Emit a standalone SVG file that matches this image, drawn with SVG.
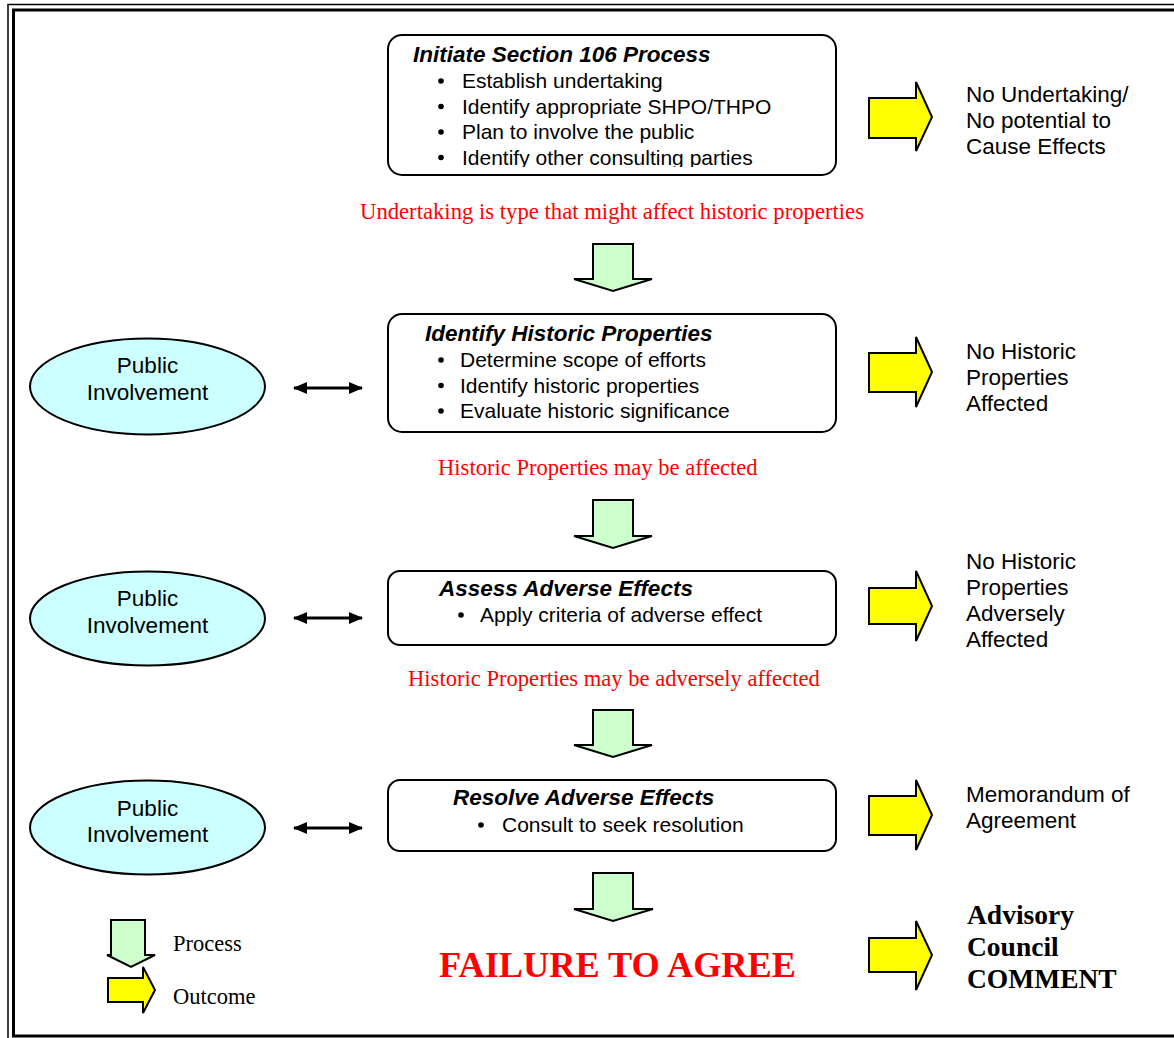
<svg xmlns="http://www.w3.org/2000/svg" width="1174" height="1038" viewBox="0 0 1174 1038">
<style>
.box{fill:#fff;stroke:#000;stroke-width:2}
.ell{fill:#CCFFFF;stroke:#000;stroke-width:2}
.proc{fill:#CCFFCC;stroke:#000;stroke-width:2;stroke-linejoin:miter}
.out{fill:#FFFF00;stroke:#000;stroke-width:2;stroke-linejoin:miter}
.dbl{stroke:#000;stroke-width:2.8;fill:none}
.sans{font-family:'Liberation Sans',Arial,sans-serif;fill:#000}
.body{font-size:21px}
.ttl{font-size:22.5px;font-weight:bold;font-style:italic}
.lg{font-size:22.5px}
.red{font-family:'Liberation Serif','Times New Roman',serif;font-size:22.6px;fill:#FF0000}
.ser{font-family:'Liberation Serif','Times New Roman',serif;fill:#000}
.big{font-size:27.5px;font-weight:bold}
.dot{fill:#000}
</style>
<defs>
<marker id="ah" viewBox="0 0 14 12" markerWidth="14" markerHeight="12" markerUnits="userSpaceOnUse" refX="13" refY="6" orient="auto-start-reverse">
<path d="M0,0 L14,6 L0,12 z" fill="#000"/>
</marker>
<clipPath id="c1"><rect x="388" y="36" width="447" height="131"/></clipPath>
</defs>
<rect width="1174" height="1038" fill="#fff"/>
<g id="border" fill="none" stroke="#000">
<rect x="8" y="4.5" width="1180" height="1040" stroke-width="1.5"/>
<rect x="13.5" y="10" width="1170" height="1026" stroke-width="3"/>
</g>
<g id="connectors">
<line class="dbl" x1="294" y1="388" x2="362" y2="388" marker-start="url(#ah)" marker-end="url(#ah)"/>
<line class="dbl" x1="294" y1="618" x2="362" y2="618" marker-start="url(#ah)" marker-end="url(#ah)"/>
<line class="dbl" x1="294" y1="828" x2="362" y2="828" marker-start="url(#ah)" marker-end="url(#ah)"/>
<polygon class="proc" points="593,244 633,244 633,279 652,279 613,291 574,279 593,279"/>
<polygon class="proc" points="593,500 633,500 633,536 652,536 613,548 574,536 593,536"/>
<polygon class="proc" points="593,710 633,710 633,745 652,745 613,757 574,745 593,745"/>
<polygon class="proc" points="593,873 633,873 633,909 653,909 613,921 574,909 593,909"/>
<polygon class="out" points="869,98 916,98 916,82 932,117 916,151 916,138 869,138"/>
<polygon class="out" points="869,353 916,353 916,337 932,372 916,407 916,392 869,392"/>
<polygon class="out" points="869,588 916,588 916,571 932,606 916,641 916,624 869,624"/>
<polygon class="out" points="869,796 916,796 916,780 932,815 916,850 916,835 869,835"/>
<polygon class="out" points="869,938 916,938 916,921 932,955 916,990 916,972 869,972"/>
</g>
<g id="initiate">
<rect class="box" x="388" y="35" width="448" height="140" rx="14"/>
<g clip-path="url(#c1)">
<text class="sans ttl" x="413" y="62">Initiate Section 106 Process</text>
<circle class="dot" cx="441" cy="81" r="2.8"/>
<text class="sans body" x="462" y="88">Establish undertaking</text>
<circle class="dot" cx="441" cy="106.5" r="2.8"/>
<text class="sans body" x="462" y="113.5">Identify appropriate SHPO/THPO</text>
<circle class="dot" cx="441" cy="132" r="2.8"/>
<text class="sans body" x="462" y="139">Plan to involve the public</text>
<circle class="dot" cx="441" cy="157.5" r="2.8"/>
<text class="sans body" x="462" y="164.5">Identify other consulting parties</text>
</g>
</g>
<g id="label1"><text class="red" x="360" y="218.5" textLength="504" lengthAdjust="spacingAndGlyphs">Undertaking is type that might affect historic properties</text></g>
<g id="outcome1">
<text class="sans lg" x="966" y="102">No Undertaking/</text>
<text class="sans lg" x="966" y="128">No potential to</text>
<text class="sans lg" x="966" y="154">Cause Effects</text>
</g>
<g id="public1">
<ellipse class="ell" cx="147.5" cy="386.5" rx="117.5" ry="48"/>
<text class="sans lg" x="147.5" y="373" text-anchor="middle">Public</text>
<text class="sans lg" x="147.5" y="400" text-anchor="middle">Involvement</text>
</g>
<g id="identify">
<rect class="box" x="388" y="314" width="448" height="118" rx="14"/>
<text class="sans ttl" x="425" y="341">Identify Historic Properties</text>
<circle class="dot" cx="441" cy="360" r="2.8"/>
<text class="sans body" x="460" y="367">Determine scope of efforts</text>
<circle class="dot" cx="441" cy="385.5" r="2.8"/>
<text class="sans body" x="460" y="392.5">Identify historic properties</text>
<circle class="dot" cx="441" cy="411" r="2.8"/>
<text class="sans body" x="460" y="418">Evaluate historic significance</text>
</g>
<g id="outcome2">
<text class="sans lg" x="966" y="359">No Historic</text>
<text class="sans lg" x="966" y="385">Properties</text>
<text class="sans lg" x="966" y="411">Affected</text>
</g>
<g id="label2"><text class="red" x="438" y="475">Historic Properties may be affected</text></g>
<g id="public2">
<ellipse class="ell" cx="147.5" cy="618.5" rx="117.5" ry="47"/>
<text class="sans lg" x="147.5" y="606" text-anchor="middle">Public</text>
<text class="sans lg" x="147.5" y="633" text-anchor="middle">Involvement</text>
</g>
<g id="assess">
<rect class="box" x="388" y="571" width="448" height="74" rx="12"/>
<text class="sans ttl" x="439" y="596">Assess Adverse Effects</text>
<circle class="dot" cx="461" cy="615" r="2.8"/>
<text class="sans body" x="480" y="622">Apply criteria of adverse effect</text>
</g>
<g id="outcome3">
<text class="sans lg" x="966" y="569">No Historic</text>
<text class="sans lg" x="966" y="595">Properties</text>
<text class="sans lg" x="966" y="621">Adversely</text>
<text class="sans lg" x="966" y="647">Affected</text>
</g>
<g id="label3"><text class="red" x="408" y="685.5">Historic Properties may be adversely affected</text></g>
<g id="public3">
<ellipse class="ell" cx="147.5" cy="827.5" rx="117.5" ry="47"/>
<text class="sans lg" x="147.5" y="816" text-anchor="middle">Public</text>
<text class="sans lg" x="147.5" y="842" text-anchor="middle">Involvement</text>
</g>
<g id="resolve">
<rect class="box" x="388" y="780" width="448" height="71" rx="12"/>
<text class="sans ttl" x="453" y="805">Resolve Adverse Effects</text>
<circle class="dot" cx="481" cy="825" r="2.8"/>
<text class="sans body" x="502" y="832">Consult to seek resolution</text>
</g>
<g id="outcome4">
<text class="sans lg" x="966" y="802">Memorandum of</text>
<text class="sans lg" x="966" y="828">Agreement</text>
</g>
<g id="failure"><text class="ser" x="439" y="977" font-size="36" font-weight="bold" style="fill:#FF0000" textLength="357" lengthAdjust="spacingAndGlyphs">FAILURE TO AGREE</text></g>
<g id="outcome5">
<text class="ser big" x="967" y="924">Advisory</text>
<text class="ser big" x="967" y="956">Council</text>
<text class="ser big" x="967" y="988">COMMENT</text>
</g>
<g id="legend">
<polygon class="proc" points="111,920 145,920 145,955 155,955 131,967 107,955 111,955"/>
<polygon class="out" points="108,978 143,978 143,967 155,990 143,1013 143,1002 108,1002"/>
<text class="ser" x="173" y="950.5" font-size="22.5">Process</text>
<text class="ser" x="173" y="1003.5" font-size="22.5">Outcome</text>
</g>
</svg>
